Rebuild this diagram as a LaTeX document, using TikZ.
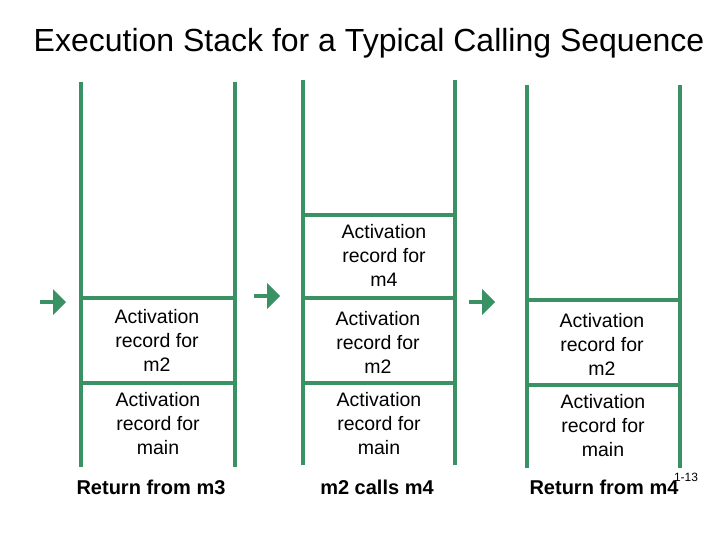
\documentclass[tikz,border=0pt]{standalone}
\usepackage{fontspec}
\setmainfont{Liberation Sans}
\definecolor{stk}{RGB}{58,146,100}
\begin{document}
\begin{tikzpicture}[x=1pt,y=-1pt,
  wall/.style={stk,line width=3.5pt},
  lbl/.style={align=center,font=\fontsize{19.5}{24}\selectfont,inner sep=0},
  caption/.style={font=\bfseries\fontsize{20}{22}\selectfont,inner sep=0},
  arr/.style={stk,line width=4pt},
  head/.style={fill=stk,draw=none}]
\useasboundingbox (0,0) rectangle (720,540);
\node[font=\fontsize{32}{36}\selectfont,inner sep=0] (title) at (369,43) {Execution Stack for a Typical Calling Sequence};
% stack 1
\draw[wall] (81,82) -- (81,467) (235,82) -- (235,467);
\draw[wall] (81,298) -- (235,298) (81,383) -- (235,383);
\node[lbl] (a1) at (157,340) {Activation\\record for\\m2};
\node[lbl] (a2) at (158,424) {Activation\\record for\\main};
\node[caption] (c1) at (151,487) {Return from m3};
% stack 2
\draw[wall] (303,80) -- (303,465) (455,80) -- (455,465);
\draw[wall] (303,215) -- (455,215) (303,298) -- (455,298) (303,383) -- (455,383);
\node[lbl] (b0) at (384,255) {Activation\\record for\\m4};
\node[lbl] (b1) at (378,342) {Activation\\record for\\m2};
\node[lbl] (b2) at (379,424) {Activation\\record for\\main};
\node[caption] (c2) at (377,487) {m2 calls m4};
% stack 3
\draw[wall] (527,85) -- (527,468) (680,85) -- (680,468);
\draw[wall] (527,300) -- (680,300) (527,385) -- (680,385);
\node[lbl] (d1) at (602,344) {Activation\\record for\\m2};
\node[lbl] (d2) at (603,426) {Activation\\record for\\main};
\node[caption] (c3) at (604,487) {Return from m4};
\node[font=\fontsize{12}{14}\selectfont,inner sep=0] (pg) at (686,477) {1-13};
% arrows
\foreach \x/\y in {40/302, 254/296, 469/302}{
  \draw[arr] (\x,\y) -- (\x+14,\y);
  \fill[head] (\x+13,\y-13) -- (\x+26,\y) -- (\x+13,\y+13) -- cycle;
}
\end{tikzpicture}
\end{document}
